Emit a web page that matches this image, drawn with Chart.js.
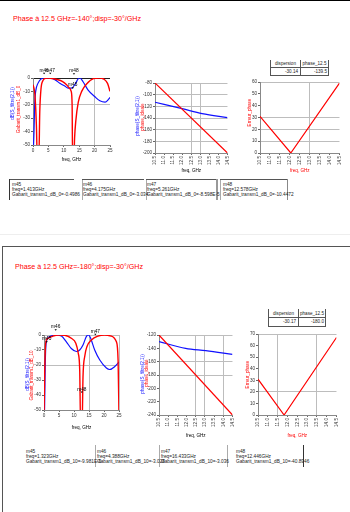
<!DOCTYPE html>
<html><head><meta charset="utf-8">
<script src="https://cdn.jsdelivr.net/npm/chart.js@4/dist/chart.umd.min.js"></script>
<style>
html,body{margin:0;padding:0;background:#fff;width:350px;height:512px;overflow:hidden;font-family:"Liberation Sans",Arial,sans-serif;}
canvas{position:absolute;}
.ln{position:absolute;}
.title{position:absolute;color:#f00;font-size:8px;line-height:8px;white-space:nowrap;transform-origin:0 0;transform:scaleX(0.89);}
.mk{position:absolute;font-size:4.75px;line-height:5px;white-space:nowrap;color:#222;}
.tc{position:absolute;font-size:4.6px;line-height:5px;white-space:nowrap;color:#222;}
</style></head>
<body>
<!-- frames -->
<div class="ln" style="left:0;top:0;width:350px;height:1px;background:#000"></div>
<div class="ln" style="left:0;top:234px;width:350px;height:1px;background:#eee"></div>
<div class="ln" style="left:2px;top:246px;width:348px;height:266px;border-left:1px solid #555;border-top:1px solid #555"></div>

<div class="title" style="left:13px;top:15px">Phase à 12.5 GHz=-140°;disp=-30°/GHz</div>
<div class="title" style="left:15px;top:263px">Phase à 12.5 GHz=-180°;disp=-30°/GHz</div>

<!-- table 1 -->
<div class="ln" style="left:270px;top:60px;width:1px;height:15px;background:#555"></div>
<div class="ln" style="left:300px;top:60px;width:1px;height:15px;background:#555"></div>
<div class="ln" style="left:328px;top:60px;width:1px;height:15px;background:#555"></div>
<div class="ln" style="left:270px;top:67px;width:59px;height:1px;background:#555"></div>
<div class="ln" style="left:270px;top:75px;width:59px;height:1px;background:#555"></div>
<div class="tc" style="left:271px;width:29px;top:60.5px;text-align:center">dispersion</div>
<div class="tc" style="left:301px;width:27px;top:60.5px;text-align:center">phase_12.5</div>
<div class="tc" style="left:271px;width:27px;top:68.5px;text-align:right">-30.14</div>
<div class="tc" style="left:301px;width:26px;top:68.5px;text-align:right">-139.5</div>

<!-- table 2 -->
<div class="ln" style="left:268px;top:309px;width:1px;height:17px;background:#555"></div>
<div class="ln" style="left:298px;top:309px;width:1px;height:17px;background:#555"></div>
<div class="ln" style="left:325px;top:309px;width:1px;height:17px;background:#555"></div>
<div class="ln" style="left:268px;top:317px;width:58px;height:1px;background:#555"></div>
<div class="ln" style="left:268px;top:326px;width:58px;height:1px;background:#555"></div>
<div class="tc" style="left:269px;width:29px;top:310.5px;text-align:center">dispersion</div>
<div class="tc" style="left:299px;width:26px;top:310.5px;text-align:center">phase_12.5</div>
<div class="tc" style="left:269px;width:27px;top:319px;text-align:right">-30.17</div>
<div class="tc" style="left:299px;width:25px;top:319px;text-align:right">-180.0</div>

<!-- marker boxes top -->
<div class="ln" style="left:9px;top:179px;width:1px;height:21px;background:#333"></div>
<div class="ln" style="left:10px;top:179px;width:64px;height:1px;background:#555"></div>
<div class="ln" style="left:82px;top:179px;width:1px;height:21px;background:#aaa"></div>
<div class="ln" style="left:82px;top:179px;width:62px;height:1px;background:#555"></div>
<div class="ln" style="left:146px;top:179px;width:1px;height:21px;background:#aaa"></div>
<div class="ln" style="left:146px;top:179px;width:71px;height:1px;background:#555"></div>
<div class="ln" style="left:216px;top:179px;width:2px;height:21px;background:#999"></div>
<div class="ln" style="left:220px;top:179px;width:1px;height:21px;background:#aaa"></div>
<div class="ln" style="left:220px;top:179px;width:67px;height:1px;background:#555"></div>
<div class="ln" style="left:287px;top:179px;width:1px;height:21px;background:#888"></div>
<div class="mk" style="left:12px;top:181.5px">m45<br>freq=1.413GHz<br>Gabarit_transm1_dB_0=-0.4986</div>
<div class="mk" style="left:83px;top:181.5px">m46<br>freq=4.175GHz<br>Gabarit_transm1_dB_0=-3.034</div>
<div class="mk" style="left:147px;top:181.5px">m47<br>freq=5.261GHz<br>Gabarit_transm1_dB_0=-8.598E-5</div>
<div class="mk" style="left:223px;top:181.5px">m48<br>freq=12.578GHz<br>Gabarit_transm1_dB_0=-10.4472</div>

<!-- marker boxes bottom -->
<div class="ln" style="left:95px;top:445px;width:1px;height:22px;background:#aaa"></div>
<div class="ln" style="left:159px;top:445px;width:1px;height:22px;background:#aaa"></div>
<div class="ln" style="left:227px;top:445px;width:1px;height:22px;background:#aaa"></div>
<div class="ln" style="left:303px;top:445px;width:1px;height:22px;background:#333"></div>
<div class="mk" style="left:26px;top:449px">m45<br>freq=1.323GHz<br>Gabarit_transm1_dB_10=-9.981E-5</div>
<div class="mk" style="left:97px;top:449px">m46<br>freq=4.388GHz<br>Gabarit_transm1_dB_10=-3.028</div>
<div class="mk" style="left:161px;top:449px">m47<br>freq=16.433GHz<br>Gabarit_transm1_dB_10=-3.036</div>
<div class="mk" style="left:236px;top:449px">m48<br>freq=12.446GHz<br>Gabarit_transm1_dB_10=-40.8946</div>

<canvas id="c1" width="112" height="102" style="left:5px;top:60px"></canvas>
<canvas id="c2" width="114" height="100" style="left:120px;top:73px"></canvas>
<canvas id="c3" width="114" height="101" style="left:232px;top:72px"></canvas>
<canvas id="c4" width="110" height="112" style="left:14px;top:318px"></canvas>
<canvas id="c5" width="115" height="113" style="left:124px;top:325px"></canvas>
<canvas id="c6" width="115" height="114" style="left:228px;top:324px"></canvas>

<script>
// ---------- tick labels ----------
const freqTicksWide = [0, 5, 10, 15, 20, 25];
const dbTicks = [0, -10, -20, -30, -40, -50];
const freqTicksNarrow = [10.5, 11.0, 11.5, 12.0, 12.5, 13.0, 13.5, 14.0, 14.5];
const phaseTicks1 = [-200, -180, -160, -140, -120, -100, -80];
const phaseTicks2 = [-240, -220, -200, -180, -160, -140, -120];
const errTicks1 = [0, 10, 20, 30, 40, 50, 60];
const errTicks2 = [0, 10, 20, 30, 40, 50, 60, 70];

// ---------- panel 1 : transmission (dB) ----------
const p1BlueFreq = [0, 0.33, 0.54, 0.87, 1.6, 2.7, 3.8, 5.4, 7.1, 8.7, 10.3, 11.4, 12.5, 13.6, 14.7, 15.2, 16.3, 17.9, 20.1, 21.7, 23.4, 24.5, 25];
const p1BlueDb = [-60, -40, -20, -10, -4, -0.5, 0, 0, -1.2, -4, -6, -7.5, -7.5, -5, -0.5, 0, -3, -9, -14, -17, -18, -16, -14.5];
const p1RedFreq = [0, 0.6, 1.1, 1.4, 1.9, 2.2, 2.6, 3.2, 4.0, 5.0, 6.5, 8.0, 9.5, 10.9, 11.8, 12.4, 12.7, 12.85, 13.3, 13.5, 13.9, 14.7, 15.8, 17.4, 19.6, 21.5, 23.0, 24.2, 25];
const p1RedDb = [-5, -12, -35, -60, -60, -25, -8, -2, -0.3, 0, -0.5, -1.2, -2.5, -5, -7.5, -10, -20, -60, -60, -45, -32, -18, -10, -4.5, -0.5, 0, -0.8, -4, -10];
const p1MarkerNames = ['m46', 'm47', 'm48', 'm45'];
const p1MarkerFreq = [3.6, 5.6, 13.3, 12.9];
const p1MarkerDb = [4.7, 4.7, 4.3, -6.2];

// ---------- panel 1 : phase ----------
const p1SimFreq = [10.5, 12.0, 13.1, 14.5];
const p1SimPhase = [-113, -124, -132.5, -139.5];
const p1IdealFreq = [10.5, 14.5];
const p1IdealPhase = [-80, -200];
const p1ErrFreq = [10.5, 12.05, 14.5];
const p1Err = [31, 0, 59];

// ---------- panel 2 : transmission (dB) ----------
const p2BlueFreq = [0, 0.2, 0.44, 0.78, 1.9, 3.6, 5.8, 7.4, 9.1, 10.8, 11.9, 13.0, 14.1, 14.8, 15.4, 16.9, 18.6, 20.8, 21.9, 23.6, 25];
const p2BlueDb = [-60, -48, -17, -4.4, -1.1, 0, -0.7, -4.4, -9, -11, -10, -6.7, -1.1, 0, -1.5, -10, -16.7, -22, -23, -21, -18];
const p2RedFreq = [0, 0.2, 0.56, 1.3, 3.0, 4.7, 6.9, 9.1, 10.6, 11.4, 11.9, 12.2, 12.7, 13.0, 13.6, 14.3, 15.8, 18.0, 20.2, 22.4, 24.1, 24.7, 25];
const p2RedDb = [-55, -28, -5.5, -2.2, -0.7, 0, -0.2, -2.2, -5.5, -12, -23, -60, -60, -28, -14, -7.8, -3.3, -0.7, 0, -0.7, -4.4, -17, -55];
const p2MarkerNames = ['m45', 'm46', 'm47', 'm48'];
const p2MarkerFreq = [0.9, 3.9, 17.1, 12.6];
const p2MarkerDb = [-3.5, 4.5, 1.5, -37];

// ---------- panel 2 : phase ----------
const p2SimFreq = [10.5, 11.95, 13.05, 14.5];
const p2SimPhase = [-130, -140, -143.5, -149];
const p2IdealFreq = [10.5, 14.5];
const p2IdealPhase = [-120, -240];
const p2ErrFreq = [10.5, 11.83, 14.5];
const p2Err = [31, 0, 67];

const F = '"Liberation Sans", Arial, sans-serif';
const BLUE = '#1010ff', RED = '#ff0000';

const annot = {
  id: 'annot',
  afterDraw(chart, args, opts) {
    const ctx = chart.ctx, a = chart.chartArea;
    (opts.ytitles || []).forEach(t => {
      ctx.save();
      ctx.translate(a.left + t.dx, (a.top + a.bottom) / 2 + (t.dy || 0));
      ctx.rotate(-Math.PI / 2);
      ctx.font = '4.6px ' + F;
      ctx.fillStyle = t.color;
      ctx.textAlign = 'center';
      ctx.textBaseline = 'middle';
      ctx.fillText(t.text, 0, 0);
      ctx.restore();
    });
    const m = opts.markers;
    if (m) {
      ctx.save();
      ctx.font = '4.8px ' + F;
      ctx.fillStyle = '#000';
      ctx.textAlign = 'center';
      ctx.textBaseline = 'alphabetic';
      m.names.forEach((n, i) => {
        const x = chart.scales.x.getPixelForValue(m.freq[i]);
        const y = chart.scales.y.getPixelForValue(m.level[i]);
        ctx.fillText(n, x, y);
        ctx.beginPath();
        ctx.moveTo(x - 1.2, y + 1); ctx.lineTo(x + 1.2, y + 1); ctx.lineTo(x, y + 2.6); ctx.closePath();
        ctx.fill();
      });
      ctx.restore();
    }
  }
};

function near(v, list) { return list.some(g => Math.abs(g - v) < 1e-6); }

function mk(id, o) {
  const yMin = Math.min(...o.yt), yMax = Math.max(...o.yt);
  return new Chart(document.getElementById(id), {
    type: 'line',
    data: {
      datasets: o.sets.map(s => ({
        data: s.xs.map((x, i) => ({ x: x, y: s.ys[i] })),
        borderColor: s.color, borderWidth: s.w || 1.2, pointRadius: 0,
        cubicInterpolationMode: s.smooth ? 'monotone' : 'default', tension: 0, fill: false
      }))
    },
    options: {
      responsive: false, animation: false, devicePixelRatio: 1,
      layout: { padding: { top: o.pt, right: o.pr, left: 0, bottom: 0 } },
      plugins: { legend: { display: false }, tooltip: { enabled: false },
        annot: { ytitles: o.ytitles, markers: o.markers } },
      scales: {
        x: {
          type: 'linear', min: o.xt[0], max: o.xt[o.xt.length - 1],
          afterBuildTicks: s => { s.ticks = o.xt.map(v => ({ value: v })); },
          afterFit: s => { s.height = o.xh; },
          ticks: { font: { size: 4.6, family: F }, color: '#333', padding: 1, autoSkip: false,
            maxRotation: o.rot ? 90 : 0, minRotation: o.rot ? 90 : 0,
            callback: v => o.rot ? Number(v).toFixed(1) : String(v) },
          grid: { color: c => (c.tick && near(c.tick.value, o.gx)) ? '#bdbdbd' : 'rgba(0,0,0,0)',
            lineWidth: 1, drawTicks: true, tickLength: 2, tickColor: '#666' },
          border: { display: true, color: '#888', width: 1 },
          title: { display: true, text: 'freq, GHz', color: o.xtc || '#000',
            font: { size: 4.6, family: F }, padding: { top: 1, bottom: 0 } }
        },
        y: {
          type: 'linear', min: yMin, max: yMax,
          afterBuildTicks: s => { s.ticks = o.yt.map(v => ({ value: v })); },
          afterFit: s => { s.width = o.yw; },
          ticks: { font: { size: 4.6, family: F }, color: '#333', padding: 1, autoSkip: false },
          grid: { color: c => (c.tick && o.gyDark !== undefined && Math.abs(c.tick.value - o.gyDark) < 1e-6) ? '#222' :
                   ((c.tick && near(c.tick.value, o.gy)) ? '#bdbdbd' : 'rgba(0,0,0,0)'),
            lineWidth: 1, drawTicks: true, tickLength: 2, tickColor: '#666' },
          border: { display: true, color: '#888', width: 1 }
        }
      }
    },
    plugins: [annot]
  });
}

// Chart 1
mk('c1', {
  xt: freqTicksWide, yt: dbTicks, yw: 28, xh: 17, pt: 18, pr: 7,
  gx: [20], gy: [-20], gyDark: 0,
  sets: [
    { xs: p1RedFreq, ys: p1RedDb, color: RED, w: 1.4, smooth: true },
    { xs: p1BlueFreq, ys: p1BlueDb, color: BLUE, w: 1.2, smooth: true }
  ],
  ytitles: [
    { text: 'dB(S_filtre(2,1))', color: BLUE, dx: -20, dy: -8 },
    { text: 'Gabarit_transm1_dB_0', color: RED, dx: -14, dy: -2 }
  ],
  markers: { names: p1MarkerNames, freq: p1MarkerFreq, level: p1MarkerDb }
});

// Chart 2
mk('c2', {
  xt: freqTicksNarrow, yt: phaseTicks1, yw: 35, xh: 20, pt: 10, pr: 4, rot: true,
  gx: [12.5, 13.0], gy: phaseTicks1,
  sets: [
    { xs: p1IdealFreq, ys: p1IdealPhase, color: RED, w: 1.2 },
    { xs: p1SimFreq, ys: p1SimPhase, color: BLUE, w: 1.2, smooth: true }
  ],
  ytitles: [
    { text: 'phase(S_filtre(2,1))', color: BLUE, dx: -17, dy: -2 },
    { text: 'phase_ideale', color: RED, dx: -12, dy: -1 }
  ]
});

// Chart 3
mk('c3', {
  xt: freqTicksNarrow, yt: errTicks1, yw: 28, xh: 20, pt: 10, pr: 5, rot: true, xtc: RED,
  gx: [13.0], gy: [60, 30, 20, 10],
  sets: [{ xs: p1ErrFreq, ys: p1Err, color: RED, w: 1.2 }],
  ytitles: [{ text: 'Erreur_phase', color: RED, dx: -10, dy: -5 }]
});

// Chart 4
mk('c4', {
  xt: freqTicksWide, yt: dbTicks, yw: 30, xh: 20, pt: 17, pr: 5,
  gx: [15, 25], gy: [0, -20],
  sets: [
    { xs: p2RedFreq, ys: p2RedDb, color: RED, w: 1.4, smooth: true },
    { xs: p2BlueFreq, ys: p2BlueDb, color: BLUE, w: 1.2, smooth: true }
  ],
  ytitles: [
    { text: 'dB(S_filtre(2,1))', color: BLUE, dx: -16, dy: 2 },
    { text: 'Gabarit_transm1_dB_10', color: RED, dx: -12, dy: 3 }
  ],
  markers: { names: p2MarkerNames, freq: p2MarkerFreq, level: p2MarkerDb }
});

// Chart 5
mk('c5', {
  xt: freqTicksNarrow, yt: phaseTicks2, yw: 35, xh: 23, pt: 10, pr: 4, rot: true,
  gx: [12.5, 13.0, 14.0], gy: [-120, -160, -180],
  sets: [
    { xs: p2IdealFreq, ys: p2IdealPhase, color: RED, w: 1.2 },
    { xs: p2SimFreq, ys: p2SimPhase, color: BLUE, w: 1.2, smooth: true }
  ],
  ytitles: [
    { text: 'phase(S_filtre(2,1))', color: BLUE, dx: -16, dy: -1 },
    { text: 'phase_ideale', color: RED, dx: -12, dy: -2 }
  ]
});

// Chart 6
mk('c6', {
  xt: freqTicksNarrow, yt: errTicks2, yw: 30, xh: 23, pt: 10, pr: 5, rot: true, xtc: RED,
  gx: [11.5, 13.5], gy: [70, 20],
  sets: [{ xs: p2ErrFreq, ys: p2Err, color: RED, w: 1.2 }],
  ytitles: [{ text: 'Erreur_phase', color: RED, dx: -10, dy: 0 }]
});
</script>
</body></html>
